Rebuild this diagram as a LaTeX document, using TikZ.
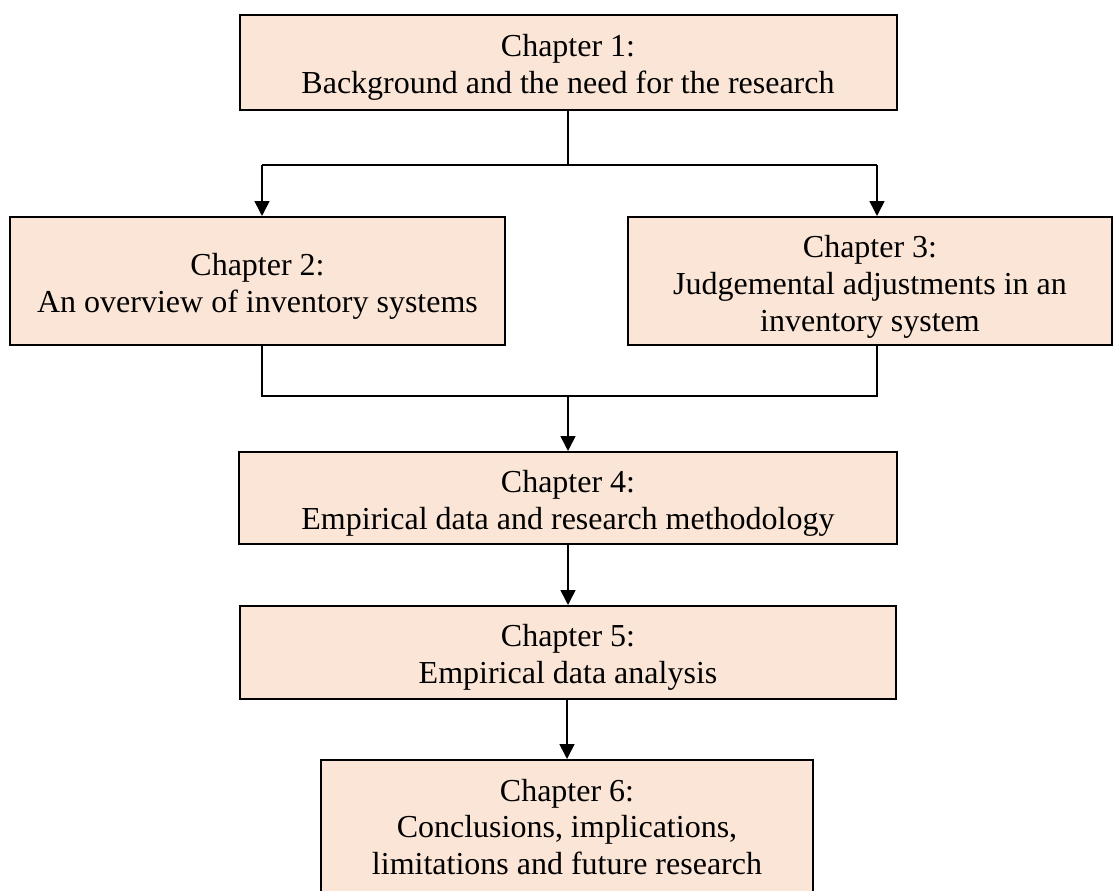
\documentclass[tikz,border=0pt]{standalone}
\usepackage{fontspec}
\setmainfont{Liberation Serif}
\usetikzlibrary{arrows.meta}
\definecolor{peach}{HTML}{FBE5D6}
\begin{document}
\begin{tikzpicture}[x=1pt,y=-1pt,
  chapbox/.style={draw=black, line width=2pt, fill=peach, inner sep=0pt},
  chaptext/.style={align=center, inner sep=0pt,
    font=\fontsize{32}{36.8}\selectfont},
  link/.style={line width=1.6pt},
  flow/.style={link, -{Triangle[length=15pt,width=15pt]}}]
\useasboundingbox (0,0) rectangle (1114,891);
\clip (0,0) rectangle (1114,891);

% chapter boxes
\node[chapbox, minimum width=657, minimum height=95] (c1) at (568,62.5) {};
\node[chapbox, minimum width=495, minimum height=128] (c2) at (257.5,281) {};
\node[chapbox, minimum width=484, minimum height=128] (c3) at (870,281) {};
\node[chapbox, minimum width=658, minimum height=92] (c4) at (568,498) {};
\node[chapbox, minimum width=656, minimum height=93] (c5) at (568,652.5) {};
\node[chapbox, minimum width=492, minimum height=138] (c6) at (567,829) {};

% chapter titles
\node[chaptext] (t1) at ([yshift=-5pt]c1.center)
  {Chapter 1:\\Background and the need for the research};
\node[chaptext] (t2) at ([yshift=-5pt]c2.center)
  {Chapter 2:\\An overview of inventory systems};
\node[chaptext] (t3) at ([yshift=-6pt]c3.center)
  {Chapter 3:\\Judgemental adjustments in an\\inventory system};
\node[chaptext] (t4) at ([yshift=-5pt]c4.center)
  {Chapter 4:\\Empirical data and research methodology};
\node[chaptext] (t5) at ([yshift=-5pt]c5.center)
  {Chapter 5:\\Empirical data analysis};
\node[chaptext] (t6) at ([yshift=2pt]c6.center)
  {Chapter 6:\\Conclusions, implications,\\limitations and future research};

% split below chapter 1
\coordinate (splitL) at (262,165);
\coordinate (splitR) at (877,165);
\draw[link] (c1.south) -- (c1.south |- splitL);
\draw[link] (splitL) -- (splitR);
\draw[flow] (splitL) -- (splitL |- c2.north);
\draw[flow] (splitR) -- (splitR |- c3.north);

% join above chapter 4
\coordinate (joinL) at (262,396);
\coordinate (joinR) at (877,396);
\draw[link] (joinL |- c2.south) -- (joinL) -- (joinR) -- (joinR |- c3.south);
\draw[flow] (c4.north |- joinL) -- (c4.north);

% sequential chapters
\draw[flow] (c4.south) -- (c5.north);
\draw[flow] (c6.north |- c5.south) -- (c6.north);
\end{tikzpicture}
\end{document}
